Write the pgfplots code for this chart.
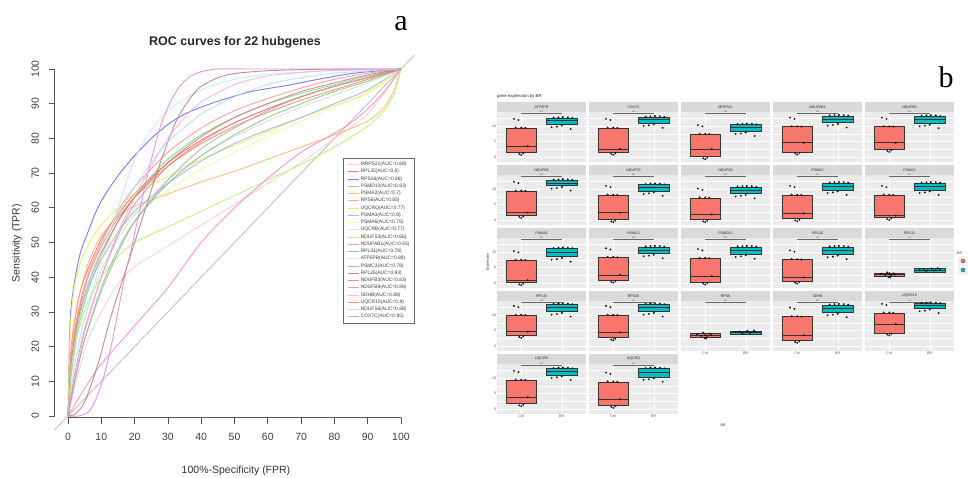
\documentclass[border=0pt]{standalone}
\usepackage{pgfplots}
\pgfplotsset{compat=1.18}
\usepgfplotslibrary{statistics}
\usepackage{fontspec}
\setmainfont{Liberation Sans}
\newfontfamily\seriffont{Liberation Serif}

\definecolor{ggred}{HTML}{F8766D}
\definecolor{ggteal}{HTML}{00BFC4}
\definecolor{ggbg}{HTML}{EBEBEB}
\definecolor{ggstrip}{HTML}{D9D9D9}
\definecolor{axc}{HTML}{555555}
\definecolor{c1}{HTML}{FFC4CF}
\definecolor{c2}{HTML}{F25C5C}
\definecolor{c3}{HTML}{5A5AF0}
\definecolor{c4}{HTML}{66DD66}
\definecolor{c5}{HTML}{FFB060}
\definecolor{c6}{HTML}{FF8C8C}
\definecolor{c7}{HTML}{EEEE44}
\definecolor{c8}{HTML}{88AAFF}
\definecolor{c9}{HTML}{F5F0A0}
\definecolor{c10}{HTML}{D9D9D9}
\definecolor{c11}{HTML}{B5EE6A}
\definecolor{c12}{HTML}{FF7FB8}
\definecolor{c13}{HTML}{7FBF7F}
\definecolor{c14}{HTML}{BFE6F5}
\definecolor{c15}{HTML}{CC8A99}
\definecolor{c16}{HTML}{B5706B}
\definecolor{c17}{HTML}{D66A84}
\definecolor{c18}{HTML}{E27BE2}
\definecolor{c19}{HTML}{F2A8F2}
\definecolor{c20}{HTML}{FF7A45}
\definecolor{c21}{HTML}{AFDCF2}
\definecolor{c22}{HTML}{A8A8A8}

\newcommand\pf{\fontsize{3.6}{4}\selectfont}
\newcommand\tf{\fontsize{10.5}{12}\selectfont}

\pgfplotsset{
  roc/.style={line width=0.9pt, smooth, tension=0.45, opacity=0.8},
  bx/.style n args={6}{boxplot prepared={draw direction=y, draw position=#1, lower whisker=#2, lower quartile=#3, median=#4, upper quartile=#5, upper whisker=#6, box extend=0.75, whisker extend=0}},
  bpanel/.style={
    scale only axis, width=89pt, height=50pt, anchor=north west,
    xmin=0.4, xmax=2.6, ymin=-1.6, ymax=14.5,
    axis background/.style={fill=ggbg},
    axis line style={draw=none},
    xtick={1,2}, ytick={0,5,10}, minor ytick={2.5,7.5,12.5},
    xmajorgrids, ymajorgrids, yminorgrids,
    major grid style={white, line width=0.45pt},
    minor grid style={white, line width=0.25pt},
    xticklabels={}, yticklabels={},
    major tick length=0pt, minor tick length=0pt,
    xtick pos=left, ytick pos=left,
    ticklabel style={font=\pf, text=black!65, inner sep=0.8pt},
    /pgf/number format/assume math mode=true,
    clip=false,
  },
  ylab/.style={yticklabels={0,5,10}},
  xlab/.style={xticklabels={Ctrl,BR}},
}

% #1 x left, #2 body top, #3 title, #4 red box, #5 teal box, #6 red pts, #7 teal pts, #8 extra
\newcommand{\bpanel}[8]{%
\begin{axis}[bpanel, at={(#1pt,-#2pt)}, #8]
\fill[ggstrip] (rel axis cs:0,1) rectangle ([yshift=10pt]rel axis cs:1,1);
\node[font=\pf, text=black!85] at ([yshift=5pt]rel axis cs:0.5,1) {#3};
\addplot[draw=black!80, line width=0.35pt, fill=ggred, bx={1}#4, boxplot/every median/.style={line width=0.7pt}] coordinates {};
\addplot[draw=black!80, line width=0.35pt, fill=ggteal, bx={2}#5, boxplot/every median/.style={line width=0.7pt}] coordinates {};
\addplot[only marks, mark=*, mark size=0.75pt, draw=black, fill=black!80, opacity=0.85] coordinates {#6};
\addplot[only marks, mark=*, mark size=0.75pt, draw=black, fill=black!80, opacity=0.85] coordinates {#7};
\draw[black!60, line width=0.3pt] (axis cs:1,14) -- (axis cs:2,14);
\node[font=\pf, anchor=south, inner sep=0.3pt, text=black!80] at (axis cs:1.5,14) {**};
\end{axis}}

\begin{document}
\begin{tikzpicture}
\path[use as bounding box] (0,0) rectangle (969pt,-477pt);

% ---------------- panel a ----------------
\node[font=\bfseries\fontsize{12.5}{14}\selectfont, text=black!85] at (235pt,-42pt) {ROC curves for 22 hubgenes};
\node[font=\fontsize{10.5}{12}\selectfont, text=black!80] at (236pt,-471pt) {100\%-Specificity (FPR)};
\node[font=\fontsize{10.5}{12}\selectfont, text=black!80, rotate=90] at (17pt,-243pt) {Sensitivity (TPR)};
\node[font=\seriffont\fontsize{30}{30}\selectfont] at (401pt,-24pt) {a};

\begin{axis}[
  at={(54.7pt,-429.9pt)}, anchor=south west, scale only axis,
  width=359.6pt, height=374.8pt,
  xmin=-4, xmax=104, ymin=-4, ymax=104,
  hide axis, clip=false,
  legend style={at={(1.0017,0.7255)}, anchor=north east, font=\fontsize{4.9}{5}\selectfont,
    draw=black!60, line width=0.9pt, fill=white, inner xsep=4pt, inner ysep=2.5pt,
    nodes={inner sep=1.1pt, text=black!75}, row sep=0pt,
    /tikz/every even column/.append style={column sep=4pt}},
  legend cell align=left,
  legend image code/.code={\draw[#1, line width=1pt] (0pt,0pt) -- (11pt,0pt);},
]
\addplot[gray!45, line width=1pt, forget plot] coordinates {(-4,-4) (104,104)};

\addplot[roc, c1] coordinates {(0,0)(3,12)(6,22)(10,30)(15,38)(20,43)(30,49)(40,55)(50,61)(60,67)(70,73)(80,80)(90,87)(100,100)};
\addlegendentry{MRPS21(AUC=0.68)}
\addplot[roc, c2] coordinates {(0,0)(1,20)(3,33)(5,40)(10,51)(15,58)(20,64)(30,73)(40,79.5)(50,84.5)(60,88.5)(70,92)(80,95)(90,97.5)(100,100)};
\addlegendentry{RPL35(AUC=0.8)}
\addplot[roc, c3] coordinates {(0,0)(0.5,24)(1,32)(2,39)(3,44)(4,48)(6,53)(8,58)(10,62)(13,66.5)(16,70.5)(20,75)(25,80)(30,84)(35,87)(40,89)(46,91)(55,93.5)(66,95.3)(75,97)(86,98.8)(100,100)};
\addlegendentry{RPS26(AUC=0.86)}
\addplot[roc, c4] coordinates {(0,0)(1,12)(3,25)(6,36)(10,46)(15,56)(20,63)(25,69)(30,74)(40,81)(50,86)(60,90)(70,93)(80,95.5)(90,98)(100,100)};
\addlegendentry{PSMD13(AUC=0.83)}
\addplot[roc, c5] coordinates {(0,0)(1,20)(3,33)(6,44)(10,52)(15,57.5)(20,60.5)(30,64)(40,67.5)(50,70.5)(60,74)(70,77.5)(80,81)(90,85)(95,89)(98,94)(100,100)};
\addlegendentry{PSMA2(AUC=0.7)}
\addplot[roc, c6] coordinates {(0,0)(1,18)(3,30)(6,41)(10,50)(15,59)(20,66)(30,76)(40,83)(50,88)(60,91.5)(70,94.5)(80,97)(90,98.8)(100,100)};
\addlegendentry{RPS6(AUC=0.85)}
\addplot[roc, c7] coordinates {(0,0)(0.5,22)(1,30)(2,38)(4,45)(7,51)(10,55)(15,60)(20,64)(30,69)(40,74)(50,78)(60,82)(70,86)(80,89.5)(90,93)(100,100)};
\addlegendentry{UQCRQ(AUC=0.77)}
\addplot[roc, c8] coordinates {(0,0)(1,14)(3,27)(6,37)(10,45)(15,53)(20,59)(30,67)(40,73.5)(50,78.5)(60,82.5)(70,86)(80,90)(90,94)(100,100)};
\addlegendentry{PSMA3(AUC=0.8)}
\addplot[roc, c9] coordinates {(0,0)(1,15)(3,28)(6,38)(10,46)(15,53)(20,58)(30,65)(40,71)(50,76)(60,80.5)(70,85)(80,89)(90,93.5)(100,100)};
\addlegendentry{PSMA6(AUC=0.75)}
\addplot[roc, c10] coordinates {(0,0)(2,15)(5,28)(10,42)(15,51)(20,58)(30,68)(40,75)(50,80.5)(60,85)(70,89)(80,92.5)(90,96)(100,100)};
\addlegendentry{UQCRB(AUC=0.77)}
\addplot[roc, c11] coordinates {(0,0)(1,12)(3,24)(6,33)(10,40)(15,46)(20,50)(30,54.5)(40,59)(50,63.5)(60,68)(70,72.5)(80,77.5)(90,83.5)(95,88)(98,93)(100,100)};
\addlegendentry{NDUFS3(AUC=0.66)}
\addplot[roc, c12] coordinates {(0,0)(5,8)(10,15)(20,26)(30,37)(40,50)(50,60)(60,68.5)(70,76)(80,81.5)(85,84.5)(90,88.5)(95,93.5)(100,100)};
\addlegendentry{NDUFAB1(AUC=0.65)}
\addplot[roc, c13] coordinates {(0,0)(2,10)(5,22)(10,37)(15,48)(20,56)(30,67)(40,75)(50,81)(60,86)(70,90)(80,93.5)(90,96.5)(100,100)};
\addlegendentry{RPL31(AUC=0.78)}
\addplot[roc, c14] coordinates {(0,0)(2,15)(5,28)(10,45)(15,60)(20,74)(24,81)(30,88)(40,94)(50,97)(60,98.5)(80,99.5)(100,100)};
\addlegendentry{ATP5PB(AUC=0.88)}
\addplot[roc, c15] coordinates {(0,0)(2,12)(5,25)(10,40)(15,52)(20,61)(30,72)(40,79)(50,84.5)(60,88.5)(70,92)(80,95)(90,97.5)(100,100)};
\addlegendentry{PSMC3(AUC=0.78)}
\addplot[roc, c16] coordinates {(0,0)(2,0.5)(5,4)(9,15)(13,29)(18,44)(23,59)(27,71)(30,79)(33,86)(37,92)(40,95)(45,97.5)(50,98.7)(60,99.5)(75,99.9)(100,100)};
\addlegendentry{RPL26(AUC=0.83)}
\addplot[roc, c17] coordinates {(0,0)(1,15)(3,28)(6,38)(10,47)(15,56)(20,63)(30,73)(40,80.5)(50,86)(60,90)(70,93.5)(80,96)(90,98.3)(100,100)};
\addlegendentry{NDUFB3(AUC=0.83)}
\addplot[roc, c18] coordinates {(0,0)(3,0)(6,1)(8,4)(10,9)(12,16)(14,25)(17,40)(19,48)(21,57)(24,70)(27.6,83)(31,91)(34,95.5)(37,98)(40,99.2)(45,100)(55,100)(70,100)(85,100)(100,100)};
\addlegendentry{NDUFB9(AUC=0.88)}
\addplot[roc, c19] coordinates {(0,0)(2,10)(5,24)(10,40)(15,53)(20,63)(25,72)(30,80)(35,86)(40,90.5)(50,95.5)(60,98)(70,99)(80,99.6)(100,100)};
\addlegendentry{SDHB(AUC=0.88)}
\addplot[roc, c20] coordinates {(0,0)(1,16)(3,29)(6,40)(10,49)(15,57)(20,63)(30,72)(40,78.5)(50,83.5)(60,87.5)(70,91)(80,94)(90,97)(100,100)};
\addlegendentry{UQCR10(AUC=0.8)}
\addplot[roc, c21] coordinates {(0,0)(1,14)(3,26)(6,38)(10,48)(15,58)(20,66)(25,73)(30,79)(40,87)(50,92)(60,95.5)(70,97.5)(80,98.8)(100,100)};
\addlegendentry{NDUFS6(AUC=0.88)}
\addplot[roc, c22] coordinates {(0,0)(2,10)(5,22)(10,36)(15,47)(20,56)(30,68)(40,77)(50,83)(60,88)(70,92)(80,95)(90,97.5)(100,100)};
\addlegendentry{COX7C(AUC=0.85)}

\draw[axc, line width=0.7pt] (axis cs:0,-0.5) -- (axis cs:100,-0.5);
\draw[axc, line width=0.7pt] (axis cs:-4,0) -- (axis cs:-4,100);
\pgfplotsinvokeforeach{0,10,20,30,40,50,60,70,80,90,100}{
  \draw[axc, line width=0.7pt] (axis cs:#1,-0.5) -- ([yshift=-6pt]axis cs:#1,-0.5);
  \node[font=\tf, text=black!75] at ([yshift=-19pt]axis cs:#1,-0.5) {#1};
  \draw[axc, line width=0.7pt] (axis cs:-4,#1) -- ([xshift=-6pt]axis cs:-4,#1);
  \node[font=\tf, text=black!75, rotate=90] at ([xshift=-19.5pt]axis cs:-4,#1) {#1};
}
\end{axis}

% ---------------- panel b ----------------
\node[font=\seriffont\fontsize{30}{30}\selectfont] at (946pt,-77pt) {b};
\node[font=\fontsize{4.3}{5}\selectfont, anchor=west, text=black!85, inner sep=0pt] at (497pt,-96pt) {gene expression by BR};
\node[font=\pf, rotate=90, text=black!80] at (488pt,-262pt) {Expression};
\node[font=\pf, text=black!80] at (723pt,-425pt) {BR};
\node[font=\pf, anchor=west, text=black!80, inner sep=0pt] at (957pt,-253pt) {BR};
\fill[ggbg!70] (958pt,-256.5pt) rectangle (968pt,-265.5pt);
\fill[ggbg!70] (958pt,-265.5pt) rectangle (968pt,-274.5pt);
\filldraw[draw=black!80, fill=ggred, line width=0.3pt] (963pt,-261pt) circle (2pt);
\filldraw[draw=black!80, fill=ggteal, line width=0.3pt] (963pt,-270pt) circle (2pt);

% row 1
\bpanel{497}{112}{ATP5PB}{{1.3}{1.6}{3.5}{9.4}{9.7}}{{10.3}{10.6}{11.8}{12.6}{12.9}}
{(0.82,12.3)(0.93,11.9)(0.86,9.5)(1,9.5)(1.1,9.4)(1.16,3.5)(0.95,1.0)(1.05,1.2)(1,0.7)}
{(1.8,12.7)(1.92,12.8)(2.03,12.9)(2.15,12.8)(2.26,12.6)(1.75,9.6)(1.88,9.8)(2,10.1)(2.22,9.0)}{ylab}
\bpanel{589}{112}{COX7C}{{1.3}{1.6}{2.6}{9.4}{9.7}}{{10.7}{11.0}{12.0}{12.9}{13.2}}
{(0.82,12.3)(0.93,11.9)(0.86,9.5)(1,9.5)(1.1,9.4)(1.16,2.6)(0.95,1.0)(1.05,1.2)(1,0.7)}
{(1.8,13.0)(1.92,13.1)(2.03,13.2)(2.15,13.1)(2.26,12.9)(1.75,10.0)(1.88,10.2)(2,10.5)(2.22,9.4)}{}
\bpanel{681}{112}{MRPS21}{{-0.1}{0.2}{2.6}{7.4}{7.7}}{{8.1}{8.4}{9.4}{10.5}{10.8}}
{(0.82,10.3)(0.93,9.9)(0.86,7.5)(1,7.5)(1.1,7.4)(1.16,2.6)(0.95,-0.4)(1.05,-0.2)(1,-0.7)}
{(1.8,10.6)(1.92,10.7)(2.03,10.8)(2.15,10.7)(2.26,10.5)(1.75,7.4)(1.88,7.6)(2,7.9)(2.22,6.8)}{}
\bpanel{773}{112}{NDUFAB1}{{1.4}{1.7}{4.6}{9.8}{10.1}}{{10.8}{11.1}{12.2}{13.3}{13.6}}
{(0.82,12.7)(0.93,12.3)(0.86,9.9)(1,9.9)(1.1,9.8)(1.16,4.6)(0.95,1.1)(1.05,1.3)(1,0.8)}
{(1.8,13.4)(1.92,13.5)(2.03,13.6)(2.15,13.5)(2.26,13.3)(1.75,10.1)(1.88,10.3)(2,10.6)(2.22,9.5)}{}
\bpanel{865}{112}{NDUFB3}{{2.3}{2.6}{4.6}{9.8}{10.1}}{{10.6}{10.9}{12.0}{13.2}{13.5}}
{(0.82,12.7)(0.93,12.3)(0.86,9.9)(1,9.9)(1.1,9.8)(1.16,4.6)(0.95,2.0)(1.05,2.2)(1,1.7)}
{(1.8,13.3)(1.92,13.4)(2.03,13.5)(2.15,13.4)(2.26,13.2)(1.75,9.9)(1.88,10.1)(2,10.4)(2.22,9.3)}{}
% row 2
\bpanel{497}{175}{NDUFB9}{{1.3}{1.6}{2.4}{9.4}{9.7}}{{10.8}{11.1}{11.9}{12.9}{13.2}}
{(0.82,12.3)(0.93,11.9)(0.86,9.5)(1,9.5)(1.1,9.4)(1.16,2.4)(0.95,1.0)(1.05,1.2)(1,0.7)}
{(1.8,13.0)(1.92,13.1)(2.03,13.2)(2.15,13.1)(2.26,12.9)(1.75,10.1)(1.88,10.3)(2,10.6)(2.22,9.5)}{ylab}
\bpanel{589}{175}{NDUFS3}{{-0.1}{0.2}{2.4}{8.1}{8.4}}{{9.1}{9.4}{10.5}{11.5}{11.8}}
{(0.82,11.0)(0.93,10.6)(0.86,8.2)(1,8.2)(1.1,8.1)(1.16,2.4)(0.95,-0.4)(1.05,-0.2)(1,-0.7)}
{(1.8,11.6)(1.92,11.7)(2.03,11.8)(2.15,11.7)(2.26,11.5)(1.75,8.4)(1.88,8.6)(2,8.9)(2.22,7.8)}{}
\bpanel{681}{175}{NDUFS6}{{-0.1}{0.2}{1.8}{7.2}{7.5}}{{8.3}{8.6}{9.7}{10.7}{11.0}}
{(0.82,10.1)(0.93,9.7)(0.86,7.3)(1,7.3)(1.1,7.2)(1.16,1.8)(0.95,-0.4)(1.05,-0.2)(1,-0.7)}
{(1.8,10.8)(1.92,10.9)(2.03,11.0)(2.15,10.9)(2.26,10.7)(1.75,7.6)(1.88,7.8)(2,8.1)(2.22,7.0)}{}
\bpanel{773}{175}{PSMA2}{{0.2}{0.5}{2.1}{8.1}{8.4}}{{9.4}{9.7}{10.8}{12.0}{12.3}}
{(0.82,11.0)(0.93,10.6)(0.86,8.2)(1,8.2)(1.1,8.1)(1.16,2.1)(0.95,-0.1)(1.05,0.1)(1,-0.4)}
{(1.8,12.1)(1.92,12.2)(2.03,12.3)(2.15,12.2)(2.26,12.0)(1.75,8.7)(1.88,8.9)(2,9.2)(2.22,8.1)}{}
\bpanel{865}{175}{PSMA3}{{0.6}{0.9}{1.4}{8.1}{8.4}}{{9.4}{9.7}{10.9}{12.0}{12.3}}
{(0.82,11.0)(0.93,10.6)(0.86,8.2)(1,8.2)(1.1,8.1)(1.16,1.4)(0.95,0.3)(1.05,0.5)(1,0.0)}
{(1.8,12.1)(1.92,12.2)(2.03,12.3)(2.15,12.2)(2.26,12.0)(1.75,8.7)(1.88,8.9)(2,9.2)(2.22,8.1)}{}
% row 3
\bpanel{497}{238}{PSMA6}{{-0.1}{0.2}{0.9}{7.4}{7.7}}{{8.2}{8.5}{10.0}{11.2}{11.5}}
{(0.82,10.3)(0.93,9.9)(0.86,7.5)(1,7.5)(1.1,7.4)(1.16,0.9)(0.95,-0.4)(1.05,-0.2)(1,-0.7)}
{(1.8,11.3)(1.92,11.4)(2.03,11.5)(2.15,11.4)(2.26,11.2)(1.75,7.5)(1.88,7.7)(2,8.0)(2.22,6.9)}{ylab}
\bpanel{589}{238}{PSMC3}{{0.7}{1.0}{2.6}{8.3}{8.6}}{{9.3}{9.6}{10.5}{11.7}{12.0}}
{(0.82,11.2)(0.93,10.8)(0.86,8.4)(1,8.4)(1.1,8.3)(1.16,2.6)(0.95,0.4)(1.05,0.6)(1,0.1)}
{(1.8,11.8)(1.92,11.9)(2.03,12.0)(2.15,11.9)(2.26,11.7)(1.75,8.6)(1.88,8.8)(2,9.1)(2.22,8.0)}{}
\bpanel{681}{238}{PSMD13}{{0.1}{0.4}{2.3}{8.0}{8.3}}{{9.1}{9.4}{10.5}{11.7}{12.0}}
{(0.82,10.9)(0.93,10.5)(0.86,8.1)(1,8.1)(1.1,8.0)(1.16,2.3)(0.95,-0.2)(1.05,0.0)(1,-0.5)}
{(1.8,11.8)(1.92,11.9)(2.03,12.0)(2.15,11.9)(2.26,11.7)(1.75,8.4)(1.88,8.6)(2,8.9)(2.22,7.8)}{}
\bpanel{773}{238}{RPL26}{{0.4}{0.7}{1.8}{7.6}{7.9}}{{9.0}{9.3}{10.5}{11.7}{12.0}}
{(0.82,10.5)(0.93,10.1)(0.86,7.7)(1,7.7)(1.1,7.6)(1.16,1.8)(0.95,0.1)(1.05,0.3)(1,-0.2)}
{(1.8,11.8)(1.92,11.9)(2.03,12.0)(2.15,11.9)(2.26,11.7)(1.75,8.3)(1.88,8.5)(2,8.8)(2.22,7.7)}{}
\bpanel{865}{238}{RPL31}{{2.0}{2.3}{2.8}{3.3}{3.6}}{{3.4}{3.6}{4.2}{4.7}{4.9}}
{(0.8,3.0)(0.9,2.6)(0.95,3.4)(1,2.9)(1.05,2.5)(1.1,3.1)(1.15,2.8)(0.98,2.0)(1.02,1.8)}
{(1.75,4.3)(1.85,4.5)(1.95,4.1)(2.05,4.6)(2.15,4.2)(2.25,4.4)(1.9,3.9)(2.1,4.0)(2.2,4.8)}{}
% row 4
\bpanel{497}{301}{RPL35}{{3.2}{3.5}{4.6}{10.0}{10.3}}{{10.8}{11.1}{12.4}{13.5}{13.7}}
{(0.82,12.9)(0.93,12.5)(0.86,10.1)(1,10.1)(1.1,10.0)(1.16,4.6)(0.95,2.9)(1.05,3.1)(1,2.6)}
{(1.8,13.6)(1.92,13.7)(2.03,13.8)(2.15,13.7)(2.26,13.5)(1.75,10.1)(1.88,10.3)(2,10.6)(2.22,9.5)}{ylab}
\bpanel{589}{301}{RPS26}{{2.4}{2.7}{4.4}{10.0}{10.3}}{{10.8}{11.1}{12.3}{13.5}{13.7}}
{(0.82,12.9)(0.93,12.5)(0.86,10.1)(1,10.1)(1.1,10.0)(1.16,4.4)(0.95,2.1)(1.05,2.3)(1,1.8)}
{(1.8,13.6)(1.92,13.7)(2.03,13.8)(2.15,13.7)(2.26,13.5)(1.75,10.1)(1.88,10.3)(2,10.6)(2.22,9.5)}{}
\bpanel{681}{301}{RPS6}{{2.8}{3.0}{3.6}{4.1}{4.3}}{{3.6}{3.8}{4.4}{4.9}{5.1}}
{(0.8,3.8)(0.9,3.3)(0.95,4.3)(1,3.5)(1.05,3.2)(1.1,4.0)(1.15,3.6)(0.98,2.6)(1.02,2.4)}
{(1.75,4.5)(1.85,4.7)(1.95,4.3)(2.05,4.8)(2.15,4.4)(2.25,4.6)(1.9,4.1)(2.1,4.2)(2.2,5.0)}{xlab}
\bpanel{773}{301}{SDHB}{{1.6}{1.9}{3.5}{9.5}{9.8}}{{10.6}{10.9}{12.0}{13.3}{13.6}}
{(0.82,12.4)(0.93,12.0)(0.86,9.6)(1,9.6)(1.1,9.5)(1.16,3.5)(0.95,1.3)(1.05,1.5)(1,1.0)}
{(1.8,13.4)(1.92,13.5)(2.03,13.6)(2.15,13.5)(2.26,13.3)(1.75,9.9)(1.88,10.1)(2,10.4)(2.22,9.3)}{xlab}
\bpanel{865}{301}{UQCR10}{{4.0}{4.3}{7.1}{10.7}{11.0}}{{11.9}{12.2}{13.0}{13.8}{14.0}}
{(0.82,13.6)(0.93,13.2)(0.86,10.8)(1,10.8)(1.1,10.7)(1.16,7.1)(0.95,3.7)(1.05,3.9)(1,3.4)}
{(1.8,13.9)(1.92,14.0)(2.03,14.1)(2.15,14.0)(2.26,13.8)(1.75,11.2)(1.88,11.4)(2,11.7)(2.22,10.6)}{xlab}
% row 5
\bpanel{497}{364}{UQCRB}{{1.5}{1.8}{3.8}{9.4}{9.7}}{{10.7}{11.0}{12.0}{13.1}{13.4}}
{(0.82,12.3)(0.93,11.9)(0.86,9.5)(1,9.5)(1.1,9.4)(1.16,3.8)(0.95,1.2)(1.05,1.4)(1,0.9)}
{(1.8,13.2)(1.92,13.3)(2.03,13.4)(2.15,13.3)(2.26,13.1)(1.75,10.0)(1.88,10.2)(2,10.5)(2.22,9.4)}{ylab,xlab}
\bpanel{589}{364}{UQCRQ}{{1.0}{1.3}{3.2}{8.8}{9.1}}{{10.1}{10.4}{11.7}{13.1}{13.4}}
{(0.82,11.7)(0.93,11.3)(0.86,8.9)(1,8.9)(1.1,8.8)(1.16,3.2)(0.95,0.7)(1.05,0.9)(1,0.4)}
{(1.8,13.2)(1.92,13.3)(2.03,13.4)(2.15,13.3)(2.26,13.1)(1.75,9.4)(1.88,9.6)(2,9.9)(2.22,8.8)}{xlab}
\end{tikzpicture}
\end{document}
